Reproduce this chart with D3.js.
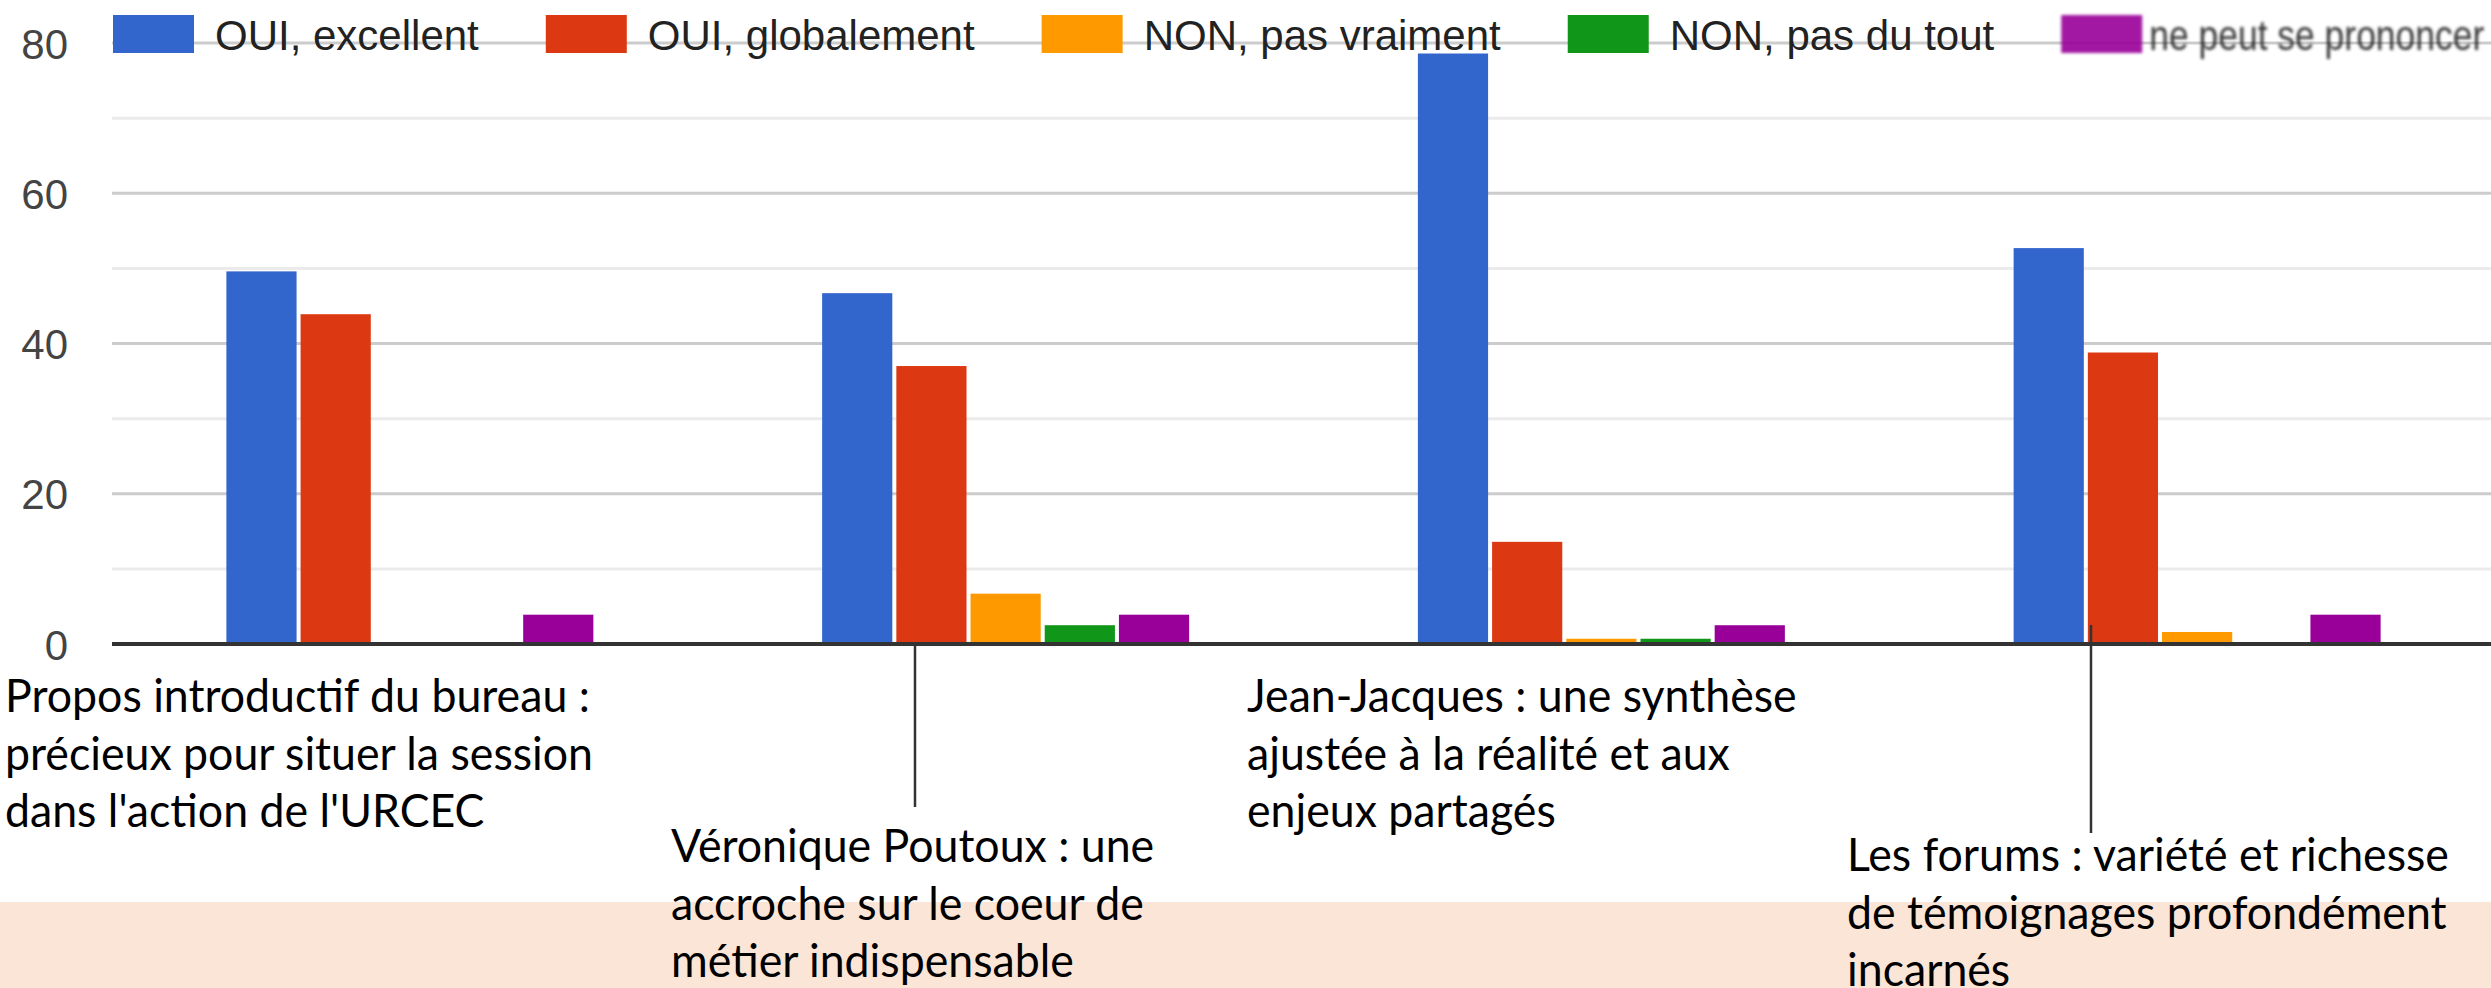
<!DOCTYPE html>
<html>
<head>
<meta charset="utf-8">
<script src="https://cdn.jsdelivr.net/npm/d3@7"></script>
<style>
body { margin: 0; background: #fff; overflow: hidden; }
</style>
</head>
<body>
<svg id="chart" width="2491" height="988"></svg>
<script>

///////  Data ///////

var categories = [
    ["Propos introductif du bureau :", "précieux pour situer la session", "dans l'action de l'URCEC"],
    ["Véronique Poutoux : une", "accroche sur le coeur de", "métier indispensable"],
    ["Jean-Jacques : une synthèse", "ajustée à la réalité et aux", "enjeux partagés"],
    ["Les forums : variété et richesse", "de témoignages profondément", "incarnés"]
];

var seriesNames = ["OUI, excellent", "OUI, globalement", "NON, pas vraiment", "NON, pas du tout", "ne peut se prononcer"];

var ouiExcellent    = [49.6, 46.7, 78.6, 52.7];
var ouiGlobalement  = [43.9, 37.0, 13.6, 38.8];
var nonPasVraiment  = [0, 6.7, 0.7, 1.6];
var nonPasDuTout    = [0, 2.5, 0.7, 0];
var nePeutPrononcer = [3.9, 3.9, 2.5, 3.9];

var seriesValues = [ouiExcellent, ouiGlobalement, nonPasVraiment, nonPasDuTout, nePeutPrononcer];
var seriesColors = ["#3366cc", "#dc3912", "#ff9900", "#109618", "#990099"];

var yTickLabels = [0, 20, 40, 60, 80];
var gridValues = [10, 20, 30, 40, 50, 60, 70, 80];

///////  Layout ///////

var svg = d3.select("#chart"),
W = 2491, H = 988,
plotLeft = 112, plotRight = 2495, baseY = 644, topY = 43;

svg.append("rect").attr("width", W).attr("height", H).attr("fill", "#ffffff");
svg.append("rect").attr("x", 0).attr("y", 902).attr("width", W).attr("height", H - 902).attr("fill", "#fbe5d6");

var x0 = d3.scaleBand()
.domain(d3.range(categories.length))
.range([plotLeft, plotRight])
.paddingInner(0.384)
.paddingOuter(0.192);

var x1 = d3.scaleBand()
.domain(seriesNames)
.range([0, x0.bandwidth()])
.paddingInner(0.054);

var y = d3.scaleLinear().domain([0, 80]).range([baseY, topY]);

/////// grid ///////

svg.append("g")
.selectAll("line")
.data(gridValues)
.enter().append("line")
.attr("x1", plotLeft)
.attr("x2", W)
.attr("y1", function(d) { return y(d); })
.attr("y2", function(d) { return y(d); })
.attr("stroke", function(d) { return d % 20 == 0 ? "#cccccc" : "#ebebeb"; })
.attr("stroke-width", 3);

var yAxis = d3.axisLeft(y).tickValues(yTickLabels).tickSize(0).tickPadding(44);

var yg = svg.append("g")
.attr("transform", "translate(" + plotLeft + ",0)")
.call(yAxis);
yg.select(".domain").remove();
yg.selectAll("text")
.attr("font-family", "'Liberation Sans', Arial, sans-serif")
.attr("font-size", "42px")
.attr("fill", "#444444")
.attr("dy", "0.36em");

/////// bars ///////

var groups = svg.append("g")
.selectAll("g")
.data(categories)
.enter().append("g")
.attr("transform", function(d, i) { return "translate(" + x0(i) + ",0)"; });

groups.selectAll("rect")
.data(function(d, i) {
    return seriesNames.map(function(name, s) { return {name: name, value: seriesValues[s][i], color: seriesColors[s]}; });
})
.enter().append("rect")
.attr("x", function(d) { return x1(d.name); })
.attr("y", function(d) { return y(d.value); })
.attr("width", x1.bandwidth())
.attr("height", function(d) { return baseY - y(d.value); })
.attr("fill", function(d) { return d.color; });

svg.append("line")
.attr("x1", plotLeft).attr("x2", W)
.attr("y1", baseY).attr("y2", baseY)
.attr("stroke", "#333333")
.attr("stroke-width", 4);

/////// legend ///////

var defs = svg.append("defs");
defs.append("filter").attr("id", "soft")
.append("feGaussianBlur").attr("stdDeviation", 1.4);

var lx = 113;
seriesNames.forEach(function(name, s) {
    var item = svg.append("g");
    var last = (s == seriesNames.length - 1);
    if (last) item.attr("filter", "url(#soft)").attr("opacity", 0.9);
    item.append("rect")
    .attr("x", lx).attr("y", 15)
    .attr("width", 81).attr("height", 38)
    .attr("fill", seriesColors[s]);
    var t = item.append("text")
    .attr("x", lx + (last ? 88 : 102)).attr("y", 50)
    .attr("font-family", "'Liberation Sans', Arial, sans-serif")
    .attr("font-size", "42px")
    .attr("fill", "#222222")
    .text(name);
    // the last entry is squeezed in the original image
    if (last) t.attr("textLength", 335).attr("lengthAdjust", "spacingAndGlyphs");
    lx = lx + 102 + t.node().getComputedTextLength() + 67;
});

/////// category labels (text boxes) ///////

var labelPos = [[5, 712], [671, 862], [1247, 712], [1847, 871]];
var lineGap = 57.5;

var labels = svg.append("g")
.attr("font-family", "Lato, 'Noto Sans', sans-serif")
.attr("font-size", "46px")
.attr("fill", "#000000");

categories.forEach(function(lines, i) {
    lines.forEach(function(line, j) {
        labels.append("text")
        .attr("x", labelPos[i][0])
        .attr("y", labelPos[i][1] + j * lineGap)
        .text(line);
    });
});

// stretch to the width of the original text boxes
var refWidth = labels.selectAll("text").filter(function() { return this.textContent == "précieux pour situer la session"; }).node().getComputedTextLength();
var k = 588 / refWidth;
labels.selectAll("text").each(function() {
    var w = this.getComputedTextLength();
    d3.select(this).attr("textLength", w * k).attr("lengthAdjust", "spacingAndGlyphs");
});

/////// leader lines ///////

var leaders = [[915, baseY, 807], [2091, 625, 833]];
svg.append("g")
.selectAll("line")
.data(leaders)
.enter().append("line")
.attr("x1", function(d) { return d[0]; })
.attr("x2", function(d) { return d[0]; })
.attr("y1", function(d) { return d[1]; })
.attr("y2", function(d) { return d[2]; })
.attr("stroke", "#333333")
.attr("stroke-width", 2.5);

</script>
</body>
</html>
